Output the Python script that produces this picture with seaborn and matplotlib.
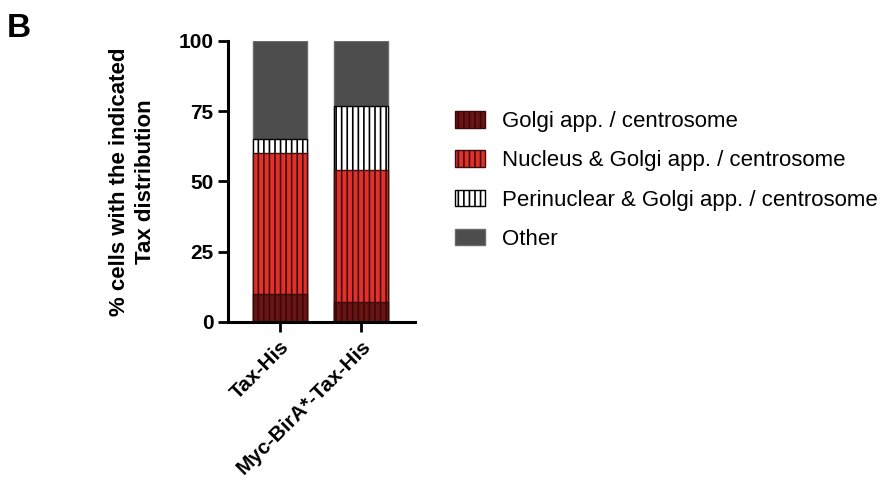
import numpy as np
import pandas as pd
import matplotlib
matplotlib.use("Agg")
import matplotlib.pyplot as plt
import seaborn as sns
from matplotlib.patches import Patch

# ------------------------------
# Data (% of cells)
# ------------------------------

constructs = ["Tax-His", "Myc-BirA*-Tax-His"]
golgi = [10, 7]
nucleus_golgi = [50, 47]
perinuclear_golgi = [5, 23]
other = [35, 23]

categories = ["Golgi app. / centrosome",
              "Nucleus & Golgi app. / centrosome",
              "Perinuclear & Golgi app. / centrosome",
              "Other"]
fill_colors = ["#6a1414", "#e5302a", "#ffffff", "#4d4d4d"]
line_colors = ["#3a0808", "#3a1010", "#000000", "#6a6a6a"]
hatches = ["|||", "|||", "|||", ""]

sns.set_style("ticks")
plt.rcParams["font.family"] = ["Liberation Sans", "DejaVu Sans"]
plt.rcParams["hatch.linewidth"] = 1.2
plt.rcParams["text.color"] = "black"
plt.rcParams["axes.labelcolor"] = "black"
plt.rcParams["xtick.color"] = "black"
plt.rcParams["ytick.color"] = "black"
plt.rcParams["axes.edgecolor"] = "black"

df = pd.DataFrame({"construct": constructs, "golgi": golgi,
                   "nucleus": nucleus_golgi, "perinuclear": perinuclear_golgi,
                   "other": other})
cols = ["golgi", "nucleus", "perinuclear", "other"]
cum = df[cols].cumsum(axis=1)

fig = plt.figure(figsize=(8.93, 5.01), dpi=100)
ax = fig.add_axes([0.2553, 0.3573, 0.2094, 0.5609])

# stacked bars: draw cumulative tops from the highest down
for i in reversed(range(4)):
    sns.barplot(x=df["construct"], y=cum[cols[i]], ax=ax, color=fill_colors[i],
                saturation=1, width=0.667, edgecolor=line_colors[i],
                linewidth=1.0, hatch=hatches[i], errorbar=None)

ax.set_xlim(-0.64, 1.67)
ax.set_ylim(0, 100)
ax.set_yticks([0, 25, 50, 75, 100])
ax.set_xlabel("")
ax.set_ylabel("% cells with the indicated\nTax distribution", fontsize=16,
              fontweight="bold", labelpad=16, linespacing=1.33)
for s in ["top", "right"]:
    ax.spines[s].set_visible(False)
for s in ["left", "bottom"]:
    ax.spines[s].set_linewidth(2.2)
ax.tick_params(axis="both", length=7, width=2, labelsize=15)
for lab in ax.get_yticklabels():
    lab.set_fontweight("bold")
ax.set_xticks([0, 1])
ax.set_xticklabels(constructs, rotation=45, ha="right", rotation_mode="anchor",
                   fontweight="bold", fontsize=15)

handles = [Patch(facecolor=fill_colors[i], edgecolor=line_colors[i],
                 hatch=hatches[i], label=categories[i]) for i in range(4)]
fig.legend(handles=handles, loc="upper left", bbox_to_anchor=(0.487, 0.818),
           frameon=False, fontsize=16, handlelength=1.35, handleheight=0.77,
           labelspacing=0.82, handletextpad=0.77)

fig.text(0.008, 0.975, "B", fontsize=24, fontweight="bold", va="top")

fig.savefig("out.png", dpi=100)
